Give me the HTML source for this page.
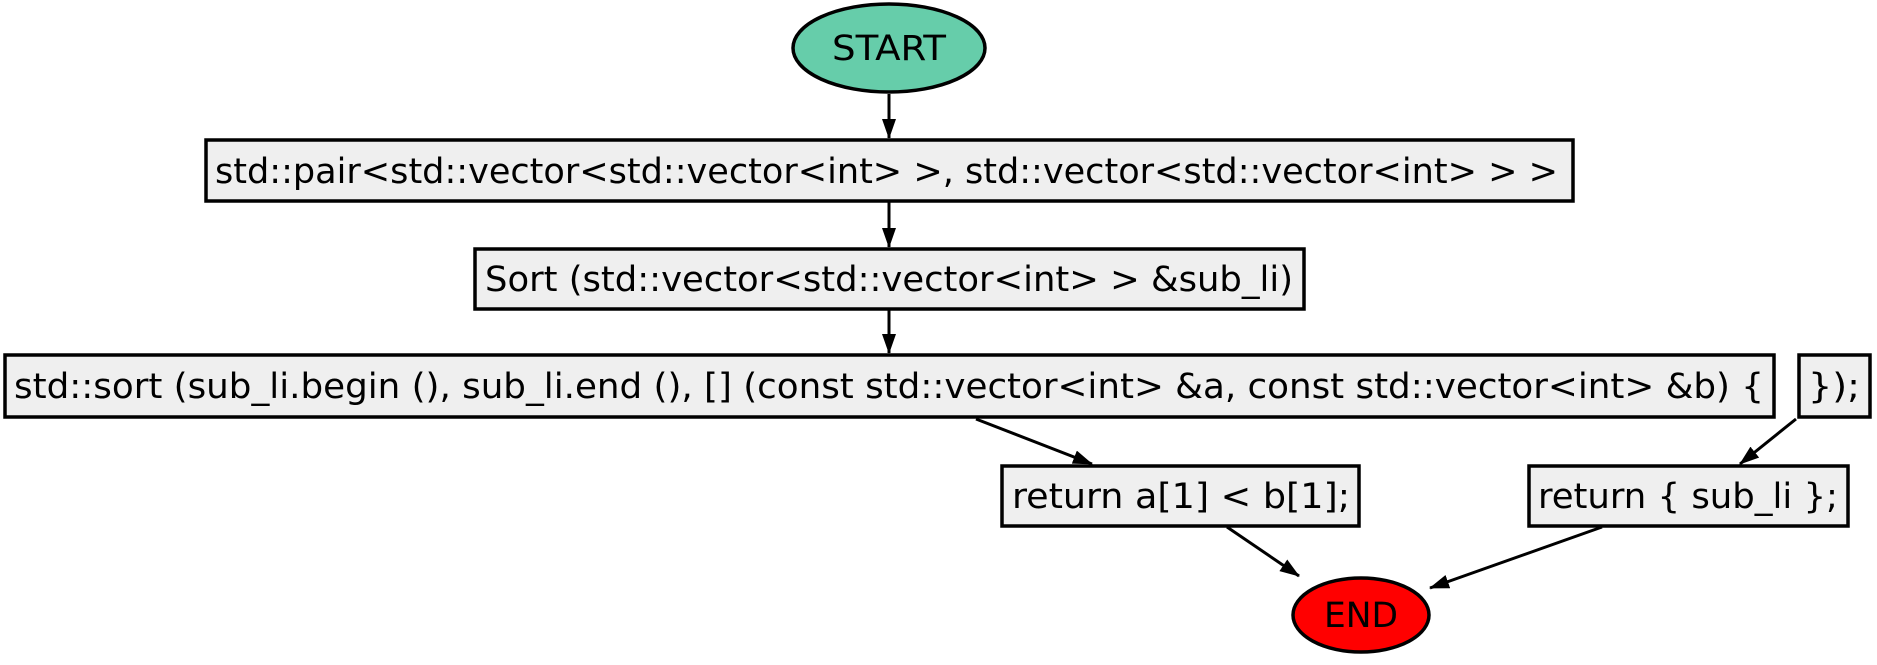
<!DOCTYPE html>
<html><head><style>html,body{margin:0;padding:0;background:#fff}svg{display:block}</style></head>
<body>
<svg width="1877" height="665" viewBox="0 0 1877 665" xmlns="http://www.w3.org/2000/svg" font-family="'DejaVu Sans Condensed','DejaVu Sans','Liberation Sans',sans-serif" font-size="35">
<defs>
<marker id="b" markerWidth="20" markerHeight="14" refX="19" refY="7" orient="auto" markerUnits="userSpaceOnUse"><path d="M0,0 L20,7 L0,14 z" fill="#000"/></marker></defs>
<g stroke="#000" stroke-width="3" fill="none">
<line x1="889" y1="94" x2="889" y2="138" marker-end="url(#b)"/>
<line x1="889" y1="202" x2="889" y2="247" marker-end="url(#b)"/>
<line x1="889" y1="310" x2="889" y2="353" marker-end="url(#b)"/>
<line x1="976" y1="419" x2="1092" y2="464" marker-end="url(#b)"/>
<line x1="1796" y1="419" x2="1740" y2="464" marker-end="url(#b)"/>
<line x1="1227" y1="527" x2="1299" y2="576" marker-end="url(#b)"/>
<line x1="1602" y1="527" x2="1430" y2="588" marker-end="url(#b)"/>
</g>
<g stroke="#000" stroke-width="3.5">
<ellipse cx="889" cy="48" rx="96" ry="44" fill="#66cdaa"/>
<rect x="206" y="140" width="1367" height="61" fill="#efefef"/>
<rect x="475" y="249" width="829" height="60" fill="#efefef"/>
<rect x="5" y="355" width="1769" height="62" fill="#efefef"/>
<rect x="1799" y="355" width="71" height="62" fill="#efefef"/>
<rect x="1002" y="466" width="357" height="60" fill="#efefef"/>
<rect x="1529" y="466" width="319" height="60" fill="#efefef"/>
<ellipse cx="1361" cy="615" rx="68" ry="37" fill="#ff0000"/>
</g>
<g fill="#000">
<text x="889" y="60" text-anchor="middle" textLength="114" lengthAdjust="spacingAndGlyphs">START</text>
<text x="215" y="183" textLength="1343" lengthAdjust="spacingAndGlyphs">std::pair&lt;std::vector&lt;std::vector&lt;int&gt; &gt;, std::vector&lt;std::vector&lt;int&gt; &gt; &gt;</text>
<text x="485" y="291" textLength="808" lengthAdjust="spacingAndGlyphs">Sort (std::vector&lt;std::vector&lt;int&gt; &gt; &amp;sub_li)</text>
<text x="14" y="398" textLength="1750" lengthAdjust="spacingAndGlyphs">std::sort (sub_li.begin (), sub_li.end (), [] (const std::vector&lt;int&gt; &amp;a, const std::vector&lt;int&gt; &amp;b) {</text>
<text x="1808" y="398" textLength="52" lengthAdjust="spacingAndGlyphs">});</text>
<text x="1012" y="508" textLength="338" lengthAdjust="spacingAndGlyphs">return a[1] &lt; b[1];</text>
<text x="1538" y="508" textLength="300" lengthAdjust="spacingAndGlyphs">return { sub_li };</text>
<text x="1361" y="627" text-anchor="middle" textLength="74" lengthAdjust="spacingAndGlyphs">END</text>
</g>
</svg>
</body></html>
